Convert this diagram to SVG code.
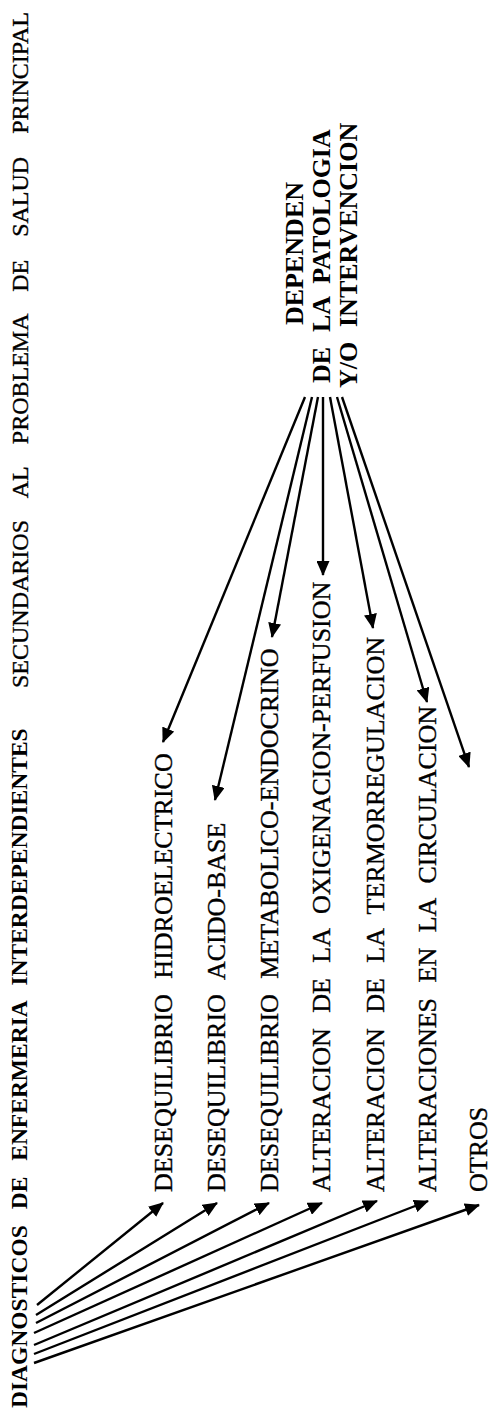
<svg xmlns="http://www.w3.org/2000/svg" width="493" height="1415" viewBox="0 0 493 1415">
  <style>
    .bold { font-family: "Liberation Serif", "Times New Roman", serif; font-weight: bold; fill: #000; }
    .reg { font-family: "Liberation Serif", "Times New Roman", serif; font-weight: normal; fill: #000; stroke: #000; stroke-width: 0.35px; }
    .title-b { font-size: 23.5px; word-spacing: 10px; }
    .title-r { font-size: 24px; word-spacing: 17px; }
    .item { font-size: 26px; word-spacing: 9px; }
    .cause { font-size: 26px; }
    .wide { word-spacing: 7px; }
    .link { stroke: #000; stroke-width: 2.4; fill: none; marker-end: url(#head); }
  </style>
  <defs>
    <marker id="head" markerUnits="userSpaceOnUse" markerWidth="15" markerHeight="13" viewBox="0 0 15 13" refX="14" refY="6.5" orient="auto">
      <path d="M0,0 L15,6.5 L0,13 z" fill="#000"/>
    </marker>
  </defs>
  <rect width="493" height="1415" fill="#fff"/>

  <!-- All labels are set sideways, reading bottom to top: rotated (u,v) = (-y, x) -->
  <g transform="rotate(-90)">
    <g id="title">
      <text class="bold title-b" x="-1408" y="27">DIAGNOSTICOS DE ENFERMERIA INTERDEPENDIENTES</text>
      <text class="reg title-r" x="-688" y="28">SECUNDARIOS AL PROBLEMA DE SALUD PRINCIPAL</text>
    </g>

    <g id="cause">
      <text class="bold cause" x="-325" y="303">DEPENDEN</text>
      <text class="bold cause" x="-383" y="330">DE</text>
      <text class="bold cause wide" x="-332" y="330">LA PATOLOGIA</text>
      <text class="bold cause" x="-388" y="357">Y/O</text>
      <text class="bold cause" x="-327" y="357">INTERVENCION</text>
    </g>

    <g id="item-1"><text class="reg item" x="-1192" y="172">DESEQUILIBRIO HIDROELECTRICO</text></g>
    <g id="item-2"><text class="reg item" x="-1192" y="225">DESEQUILIBRIO ACIDO-BASE</text></g>
    <g id="item-3"><text class="reg item" x="-1192" y="278">DESEQUILIBRIO METABOLICO-ENDOCRINO</text></g>
    <g id="item-4"><text class="reg item" x="-1192" y="330">ALTERACION DE LA OXIGENACION-PERFUSION</text></g>
    <g id="item-5"><text class="reg item" x="-1192" y="384">ALTERACION DE LA TERMORREGULACION</text></g>
    <g id="item-6"><text class="reg item" x="-1192" y="436">ALTERACIONES EN LA CIRCULACION</text></g>
    <g id="item-7"><text class="reg item" x="-1192" y="487">OTROS</text></g>
  </g>

  <g id="connectors">
    <!-- from the diagnoses heading to each item -->
    <line class="link" x1="37" y1="1305" x2="163" y2="1203"/>
    <line class="link" x1="36" y1="1315" x2="217" y2="1203"/>
    <line class="link" x1="36" y1="1323" x2="269" y2="1203"/>
    <line class="link" x1="34" y1="1333" x2="322" y2="1203"/>
    <line class="link" x1="34" y1="1345" x2="377" y2="1201"/>
    <line class="link" x1="34" y1="1354" x2="428" y2="1201"/>
    <line class="link" x1="34" y1="1363" x2="479" y2="1205"/>
    <!-- from the cause block to each item -->
    <line class="link" x1="305" y1="397" x2="163" y2="742"/>
    <line class="link" x1="312" y1="397" x2="215" y2="800"/>
    <line class="link" x1="318" y1="397" x2="272" y2="637"/>
    <line class="link" x1="323" y1="397" x2="323" y2="575"/>
    <line class="link" x1="330" y1="397" x2="373" y2="628"/>
    <line class="link" x1="337" y1="397" x2="427" y2="702"/>
    <line class="link" x1="342" y1="397" x2="469" y2="767"/>
  </g>
</svg>
